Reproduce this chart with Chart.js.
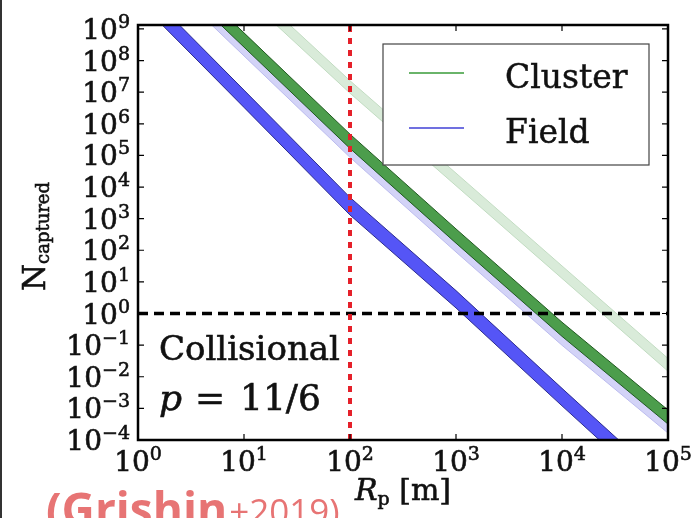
<!DOCTYPE html>
<html>
<head>
<meta charset="utf-8">
<script src="https://cdn.jsdelivr.net/npm/chart.js@4"></script>
<style>
  html, body { margin: 0; padding: 0; background: #fff; }
  #wrap { position: relative; width: 694px; height: 518px; overflow: hidden; }
  #edge { position: absolute; left: 0; top: 0; width: 2px; height: 518px; background: #333; }
</style>
</head>
<body>
<div id="wrap">
  <canvas id="chart" width="694" height="518"></canvas>
  <div id="edge"></div>
</div>
<script>
// planetesimal radius [m] and captured numbers
const radius = [1, 10, 100, 1000, 10000, 100000];

// Field (dark blue band)
const fieldLow  = [7.9e9, 3.3e6, 1.3e3, 1.5, 1.2e-3, 1.06e-6];
const fieldHigh = [2.8e10, 1.16e7, 4.7e3, 5.3, 4.3e-3, 3.8e-6];
// Field, second case (light blue band)
const fieldAltLow  = [2.26e11, 1.4e8, 8.7e4, 88, 0.099, 1.66e-4];
const fieldAltHigh = [4.3e11, 2.66e8, 1.66e5, 168, 0.19, 3.2e-4];
// Cluster (dark green band)
const clusterLow  = [4.3e11, 2.66e8, 1.66e5, 168, 0.19, 3.2e-4];
const clusterHigh = [1.2e12, 7.5e8, 4.7e5, 473, 0.53, 8.9e-4];
// Cluster, second case (light green band)
const clusterAltLow  = [1.5e13, 1.17e10, 9.3e6, 1.1e4, 12.9, 0.015];
const clusterAltHigh = [3.7e13, 2.95e10, 2.3e7, 2.75e4, 32, 0.038];

const xRange = [1, 1e5];
const yRange = [1e-4, 1.33e9];
const xTicks = [1, 10, 100, 1000, 10000, 100000];
const yTicks = [1e-4, 1e-3, 1e-2, 1e-1, 1, 10, 100, 1e3, 1e4, 1e5, 1e6, 1e7, 1e8, 1e9];
const collisionRadius = 100;  // red dashed line
const unityN = 1;             // black dashed line
const legendLabels = ['Cluster', 'Field'];

const SERIF = '"DejaVu Serif", serif';

function pts(arr){
  return radius.map((r, i) => ({x: r, y: arr[i]}));
}

function band(lo, hi, fillColor, edgeColor, order){
  return [
    {data: pts(lo), borderColor: edgeColor, borderWidth: 1, pointRadius: 0, fill: false, order},
    {data: pts(hi), borderColor: edgeColor, borderWidth: 1, pointRadius: 0, fill: '-1', backgroundColor: fillColor, order}
  ];
}

const datasets = [
  ...band(fieldLow, fieldHigh, '#5555f6', '#2c2c90', 1),
  ...band(clusterLow, clusterHigh, '#4c9d4c', '#1f5a1f', 2),
  ...band(fieldAltLow, fieldAltHigh, '#d3d3f7', '#bbbbee', 3),
  ...band(clusterAltLow, clusterAltHigh, '#d9ebd9', '#c2dcc2', 4),
  {data: [{x: collisionRadius, y: yRange[0]}, {x: collisionRadius, y: yRange[1]}],
   borderColor: '#e5202a', borderWidth: 4, borderDash: [6, 6], pointRadius: 0, fill: false, order: 0},
  {data: [{x: xRange[0], y: unityN}, {x: xRange[1], y: unityN}],
   borderColor: '#000', borderWidth: 3.5, borderDash: [10, 6], pointRadius: 0, fill: false, order: 0}
];

// text with a hairline stroke, the reference type is a bit heavy
function heavyText(ctx, s, x, y){
  ctx.fillText(s, x, y);
  ctx.strokeText(s, x, y);
}

function powLabel(ctx, e, x, y, align){
  const base = '10';
  const sup = e < 0 ? '\u2212' + (-e) : String(e);
  ctx.font = '28px ' + SERIF;
  const wb = ctx.measureText(base).width;
  ctx.font = '19px ' + SERIF;
  const ws = ctx.measureText(sup).width;
  const x0 = align === 'right' ? x - wb - ws : x - (wb + ws) / 2;
  ctx.font = '28px ' + SERIF;
  heavyText(ctx, base, x0, y);
  ctx.font = '19px ' + SERIF;
  heavyText(ctx, sup, x0 + wb, y - 11);
}

const decor = {
  id: 'decor',
  afterDatasetsDraw(chart){
    const {ctx, chartArea: a, scales: {x, y}} = chart;
    ctx.save();
    ctx.textAlign = 'left';
    ctx.textBaseline = 'alphabetic';

    // legend box
    const lx = a.right - 285, ly = a.top + 19;
    ctx.fillStyle = '#fff';
    ctx.fillRect(lx, ly, 266, 121);
    ctx.strokeStyle = '#444';
    ctx.lineWidth = 1.2;
    ctx.strokeRect(lx, ly, 266, 121);
    const legendColors = ['#6ab46a', '#7070e0'];
    legendLabels.forEach((t, i) => {
      const yy = ly + 29 + i * 55;
      ctx.strokeStyle = legendColors[i];
      ctx.lineWidth = 2;
      ctx.beginPath(); ctx.moveTo(lx + 26, yy); ctx.lineTo(lx + 81, yy); ctx.stroke();
      ctx.fillStyle = '#111';
      ctx.strokeStyle = '#111';
      ctx.lineWidth = 0.5;
      ctx.font = '33px ' + SERIF;
      heavyText(ctx, t, lx + 122, yy + 15);
    });

    // frame
    ctx.strokeStyle = '#000';
    ctx.lineWidth = 2.5;
    ctx.strokeRect(a.left, a.top, a.right - a.left, a.bottom - a.top);

    // inward ticks
    ctx.lineWidth = 1.2;
    ctx.beginPath();
    xTicks.forEach(v => {
      const px = x.getPixelForValue(v);
      ctx.moveTo(px, a.bottom); ctx.lineTo(px, a.bottom - 6);
      ctx.moveTo(px, a.top); ctx.lineTo(px, a.top + 6);
    });
    yTicks.forEach(v => {
      const py = y.getPixelForValue(v);
      ctx.moveTo(a.left, py); ctx.lineTo(a.left + 6, py);
      ctx.moveTo(a.right, py); ctx.lineTo(a.right - 6, py);
    });
    ctx.stroke();

    // tick labels
    ctx.fillStyle = '#111';
    ctx.strokeStyle = '#111';
    ctx.lineWidth = 0.6;
    xTicks.forEach(v => powLabel(ctx, Math.round(Math.log10(v)), x.getPixelForValue(v), a.bottom + 31, 'center'));
    yTicks.forEach(v => powLabel(ctx, Math.round(Math.log10(v)), a.left - 8, y.getPixelForValue(v) + 10, 'right'));

    // axis titles
    ctx.font = 'italic 30px ' + SERIF;
    const wR = ctx.measureText('R').width;
    ctx.font = '19px ' + SERIF;
    const wp = ctx.measureText('p').width;
    ctx.font = '30px ' + SERIF;
    const wm = ctx.measureText(' [m]').width;
    let tx = (a.left + a.right) / 2 - (wR + wp + wm) / 2;
    const ty = a.bottom + 60;
    ctx.font = 'italic 30px ' + SERIF; heavyText(ctx, 'R', tx, ty); tx += wR;
    ctx.font = '19px ' + SERIF; heavyText(ctx, 'p', tx, ty + 5); tx += wp;
    ctx.font = '30px ' + SERIF; heavyText(ctx, ' [m]', tx, ty);

    ctx.save();
    ctx.translate(45, (a.top + a.bottom) / 2 + 4);
    ctx.rotate(-Math.PI / 2);
    ctx.font = '31px ' + SERIF;
    const wN = ctx.measureText('N').width;
    ctx.font = '18px ' + SERIF;
    const wc = ctx.measureText('captured').width;
    const sx = -(wN + wc) / 2;
    ctx.font = '31px ' + SERIF; heavyText(ctx, 'N', sx, 0);
    ctx.font = '18px ' + SERIF; heavyText(ctx, 'captured', sx + wN, 4);
    ctx.restore();

    // annotation
    ctx.font = '34px ' + SERIF;
    heavyText(ctx, 'Collisional', a.left + 21, a.top + 335);
    ctx.font = 'italic 36px ' + SERIF;
    heavyText(ctx, 'p', a.left + 21, a.top + 385);
    ctx.font = '36px ' + SERIF;
    heavyText(ctx, '=', a.left + 57, a.top + 385);
    heavyText(ctx, '11/6', a.left + 102, a.top + 385);

    // source
    ctx.fillStyle = '#e77474';
    ctx.font = 'bold 46px "Open Sans", sans-serif';
    ctx.fillText('(Grishin', 46, 526);
    const wg = ctx.measureText('(Grishin').width;
    ctx.font = '35px "Open Sans", sans-serif';
    ctx.fillText('+2019)', 48 + wg, 524);

    ctx.restore();
  }
};

new Chart(document.getElementById('chart'), {
  type: 'line',
  data: {datasets},
  options: {
    responsive: false,
    animation: false,
    layout: {padding: {left: 138, right: 26, top: 25, bottom: 78}},
    plugins: {
      legend: {display: false},
      tooltip: {enabled: false},
      filler: {propagate: false}
    },
    scales: {
      x: {type: 'logarithmic', display: false, min: xRange[0], max: xRange[1]},
      y: {type: 'logarithmic', display: false, min: yRange[0], max: yRange[1]}
    }
  },
  plugins: [decor]
});
</script>
</body>
</html>
